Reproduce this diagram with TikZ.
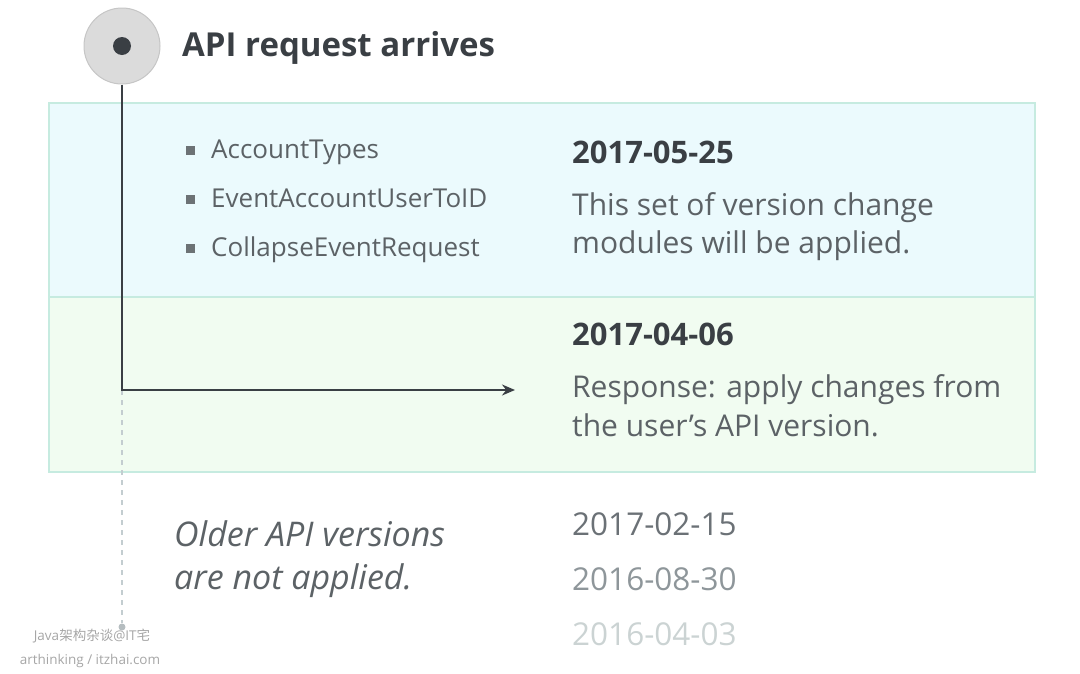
\documentclass[tikz,border=0pt]{standalone}
\usepackage{fontspec}
\setmainfont{Open Sans}
\newfontfamily\cjk{Noto Sans CJK SC}
\usetikzlibrary{arrows.meta}

\definecolor{inkdark}{HTML}{3A3F44}
\definecolor{inktext}{HTML}{5C6266}
\definecolor{boxline}{HTML}{C6EBE0}
\definecolor{bluefill}{HTML}{EBFAFD}
\definecolor{greenfill}{HTML}{F1FCF1}
\definecolor{dashgray}{HTML}{C3CDD0}

\tikzset{%
  txt/.style={anchor=base west, inner sep=0pt, text=inktext,
    font=\fontsize{30}{35}\selectfont},
  datebold/.style={txt, text=inkdark, font=\fontsize{31}{36}\selectfont\bfseries},
  item/.style={txt, font=\fontsize{26}{30}\selectfont},
  bulletbox/.style={rectangle, fill=inktext!90, minimum size=9pt, inner sep=0pt},
  layerbox/.style={rectangle, draw=boxline, line width=1.5pt, anchor=north west,
    minimum width=986pt, inner sep=0pt},
}

\begin{document}
\begin{tikzpicture}[x=1pt, y=-1pt, >={Stealth[length=13pt,width=11pt]}]
\useasboundingbox (0,0) rectangle (1080,673);
%=========================================================================================================
% Version boxes
%=========================================================================================================

\node [layerbox, fill=bluefill, minimum height=194pt] (newer) at (48,102) {};
\node [layerbox, fill=greenfill, minimum height=175pt] (current) at (48,296) {};

%=========================================================================================================
% Request start
%=========================================================================================================

\node [circle, fill=gray!28, draw=gray!45, line width=1pt, minimum size=76pt] (start) at (122,46) {};
\node [circle, fill=inkdark, minimum size=18pt, inner sep=0pt] (dot) at (start.center) {};
\node [anchor=base west, inner sep=0pt, text=inkdark, font=\fontsize{33}{39}\selectfont\bfseries]
  (title) at (182,56) {API request arrives};

%=========================================================================================================
% Change modules
%=========================================================================================================

\foreach \l [count=\i] in {AccountTypes, EventAccountUserToID, CollapseEventRequest}
{
  \node [bulletbox] (bullet-\i) at (190,101+49*\i) {};
  \node [item] (module-\i) at (211,109+49*\i) {\l};
}

\node [datebold] (date-1) at (572,163) {2017-05-25};
\node [txt] (note-1a) at (572,215) {This set of version change};
\node [txt] (note-1b) at (572,253) {modules will be applied.};

\node [datebold] (date-2) at (572,345) {2017-04-06};
\node [txt] (note-2a) at (572,397) {Response: apply changes from};
\node [txt] (note-2b) at (572,436) {the user’s API version.};

%=========================================================================================================
% Older versions
%=========================================================================================================

\node [txt, font=\fontsize{34}{40}\selectfont\itshape] (old-a) at (174,546) {Older API versions};
\node [txt, font=\fontsize{34}{40}\selectfont\itshape] (old-b) at (174,589) {are not applied.};

\foreach \d/\c [count=\i] in {2017-02-15/6B7176, 2016-08-30/8E969A, 2016-04-03/CBD3D3}
{
  \definecolor{datecol}{HTML}{\c}
  \node [txt, text=datecol, font=\fontsize{31.5}{36}\selectfont] (older-\i) at (572,480+55*\i) {\d};
}

%=========================================================================================================
% Request path
%=========================================================================================================

\coordinate (turn) at (122,390);
\coordinate (target) at (515,390);
\node [circle, fill=dashgray!80!gray, minimum size=7pt, inner sep=0pt] (end) at (122,627) {};

\draw [dashgray, line width=2pt, dash pattern=on 5pt off 5pt] (turn) -- (end);
\draw [->, inkdark, line width=2pt] (start.south) -- (turn) -- (target);

%=========================================================================================================
% Watermark
%=========================================================================================================

\node [text=gray!70, font=\fontsize{13.5}{16}\selectfont] (mark-1) at (92,636) {Java{\cjk 架构杂谈}@IT{\cjk 宅}};
\node [text=gray!70, font=\fontsize{13.5}{16}\selectfont] (mark-2) at (90,661) {arthinking / itzhai.com};

\end{tikzpicture}
\end{document}
